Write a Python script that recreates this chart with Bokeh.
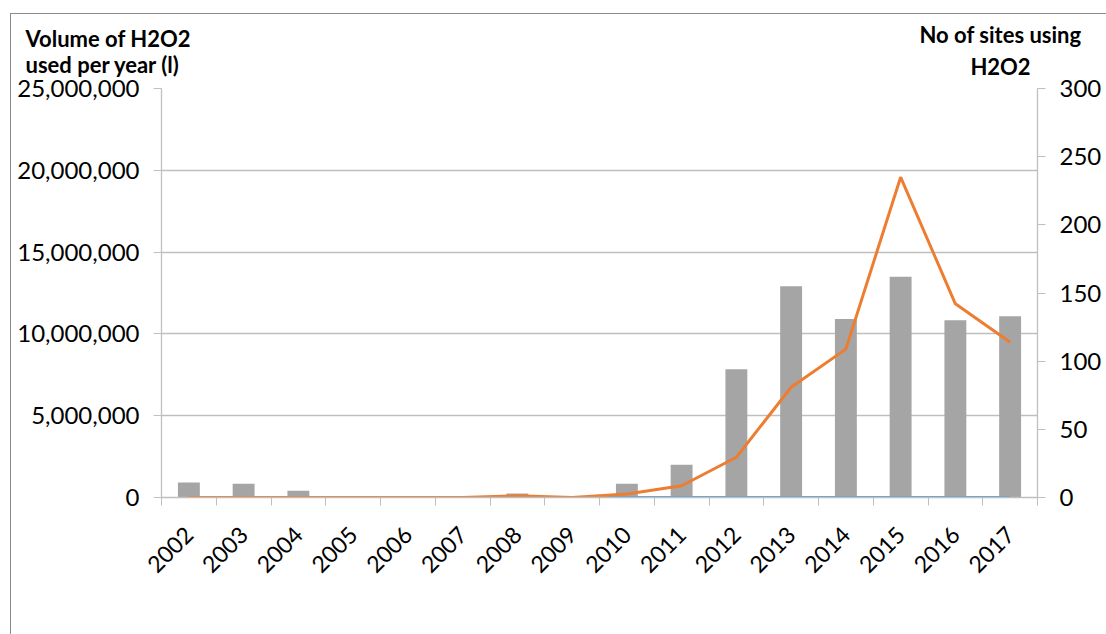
import math
from bokeh.plotting import figure
from bokeh.models import (Range1d, LinearAxis, FixedTicker, NumeralTickFormatter,
                          Legend, LegendItem, Label)
from bokeh.embed import file_html
from bokeh.resources import INLINE

years = ["2002", "2003", "2004", "2005", "2006", "2007", "2008", "2009",
         "2010", "2011", "2012", "2013", "2014", "2015", "2016", "2017"]
sites = [11, 10, 5, 0, 0, 0, 3, 0, 10, 24, 94, 155, 131, 162, 130, 133]
litres = [0, 0, 0, 0, 0, 0, 100000, 0, 220000, 720000, 2460000, 6740000,
          9070000, 19580000, 11840000, 9490000]
zero_series = [0] * 16
left_ticks = [0, 5000000, 10000000, 15000000, 20000000, 25000000]
right_ticks = [0, 50, 100, 150, 200, 250, 300]
left_title = ["Volume of H2O2", "used per year (l)"]
right_title = ["No of sites using", "H2O2"]

FONT = "Lato"
AX = "#bfbfbf"

x = list(range(len(years)))

p = figure(frame_width=876, frame_height=409, output_backend="svg", toolbar_location=None,
           x_range=Range1d(-0.5, len(years) - 0.5), y_range=Range1d(0, 25000000),
           min_border_left=150, min_border_right=69, min_border_top=74,
           min_border_bottom=0)
p.margin = (13, 0, 0, 10)
p.styles = {"border-left": "1px solid #8c8c8c", "border-top": "1px solid #8c8c8c"}
p.outline_line_color = None
p.extra_y_ranges = {"sites": Range1d(0, 300)}

bars = p.vbar(x=x, top=sites, width=0.4, y_range_name="sites",
              fill_color="#a5a5a5", line_color=None)
p.line(x, zero_series, line_color="#5b9bd5", line_width=3)
ln = p.line(x, litres, line_color="#ed7d31", line_width=3)

p.xgrid.visible = False
p.ygrid.ticker = FixedTicker(ticks=left_ticks)
p.ygrid.grid_line_color = AX
p.ygrid.grid_line_width = 1.3

ya = p.yaxis[0]
ya.ticker = FixedTicker(ticks=left_ticks)
ya.formatter = NumeralTickFormatter(format="0,0")

yr = LinearAxis(y_range_name="sites", ticker=FixedTicker(ticks=right_ticks))
p.add_layout(yr, "right")

for a in (ya, yr):
    a.axis_line_color = AX
    a.axis_line_width = 1.3
    a.major_tick_line_color = AX
    a.major_tick_out = 8
    a.major_tick_in = 0
    a.minor_tick_line_color = None
    a.major_label_text_font = FONT
    a.major_label_text_font_size = "24px"
    a.major_label_text_color = "#000000"
    a.major_label_standoff = 14

xa = p.xaxis[0]
xa.ticker = FixedTicker(ticks=x, minor_ticks=[i - 0.5 for i in range(len(years) + 1)])
xa.major_label_overrides = {i: y for i, y in enumerate(years)}
xa.major_tick_out = 0
xa.major_tick_in = 0
xa.minor_tick_out = 8
xa.minor_tick_in = 0
xa.minor_tick_line_color = AX
xa.axis_line_color = AX
xa.axis_line_width = 1.3
xa.major_label_orientation = math.pi / 4
xa.major_label_text_font = FONT
xa.major_label_text_font_size = "23px"
xa.major_label_text_color = "#000000"
xa.major_label_standoff = 25

legend = Legend(items=[LegendItem(label="Number of sites", renderers=[bars]),
                       LegendItem(label="Hydrogen Peroxide (litres)", renderers=[ln])],
                orientation="horizontal", location=(131, 36),
                border_line_color=None, background_fill_alpha=0,
                glyph_width=40, glyph_height=14, label_standoff=5, spacing=41,
                padding=0, margin=10,
                label_text_font=FONT, label_text_font_size="23px")
p.add_layout(legend, "below")

title_style = dict(x_units="canvas", y_units="canvas", text_font=FONT,
                   text_font_style="bold", text_font_size="22px",
                   text_baseline="alphabetic", text_color="#000000")
p.add_layout(Label(x=13, y=23, text=left_title[0], text_align="left", **title_style), "above")
p.add_layout(Label(x=13, y=49, text=left_title[1], text_align="left", **title_style), "above")
p.add_layout(Label(x=988, y=19, text=right_title[0], text_align="center", **title_style), "below")
p.add_layout(Label(x=988, y=51, text=right_title[1], text_align="center", **title_style), "below")

open("out.html", "w").write(file_html(p, INLINE))
